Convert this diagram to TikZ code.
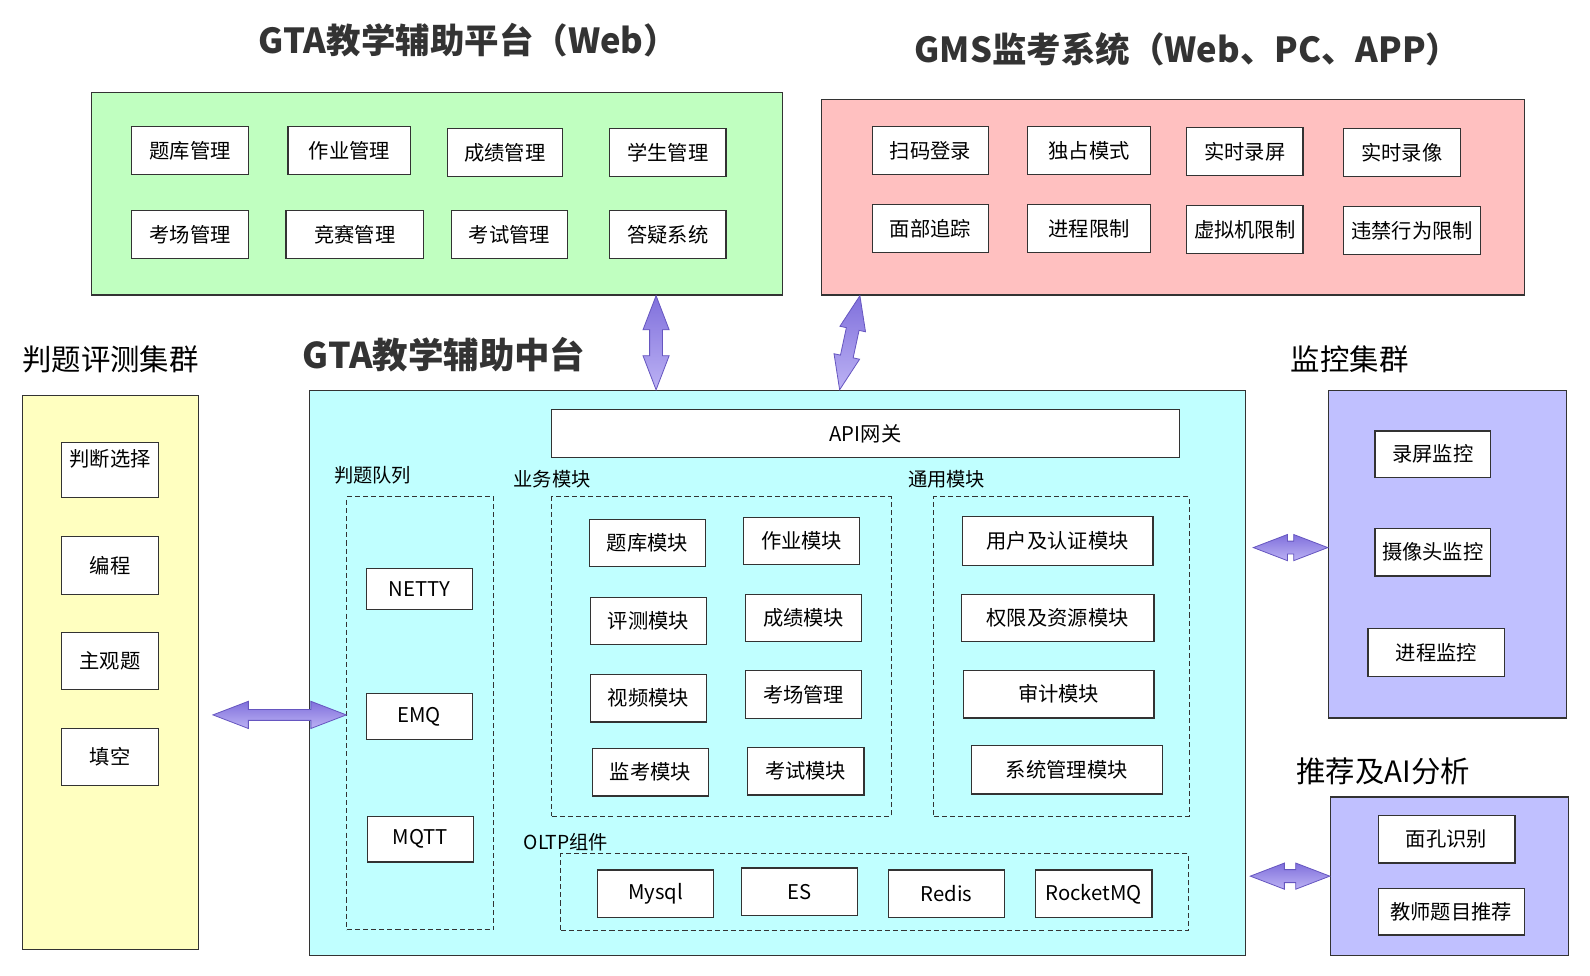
\documentclass[tikz,border=0pt]{standalone}
\usepackage{fontspec}
\setmainfont{Noto Sans CJK SC}
\usetikzlibrary{shapes.arrows,calc}
\definecolor{lineg}{HTML}{333333}
\definecolor{platg}{HTML}{C0FFC0}
\definecolor{gmsr}{HTML}{FFC0C0}
\definecolor{midc}{HTML}{C0FFFF}
\definecolor{judy}{HTML}{FFFFC0}
\definecolor{monp}{HTML}{C0C0FF}
\definecolor{arrline}{HTML}{6656C0}
\definecolor{arrdk}{HTML}{8070DC}
\definecolor{arrlt}{HTML}{BCB2F4}
\newcommand\bigarr[3][]{\path let \p1=($(#3)-(#2)$), \n1={atan2(\y1,\x1)}, \n2={veclen(\x1,\y1)} in
  node[fatarr, minimum height=\n2, rotate=\n1, #1] at ($(#2)!0.5!(#3)$) {};}

\begin{document}
\begin{tikzpicture}[x=1pt,y=-1pt,
  panel/.style={draw=lineg,line width=1.2pt,inner sep=0pt},
  mod/.style={draw=lineg,fill=white,line width=1.1pt,inner sep=0pt,minimum width=115pt,minimum height=47pt,font=\fontsize{20}{23}\selectfont},
  grp/.style={draw=lineg,dash pattern=on 5pt off 3pt,line width=1pt,inner sep=0pt},
  ttl/.style={font=\fontsize{34}{38}\selectfont\bfseries,text=lineg},
  ttr/.style={font=\fontsize{29}{34}\selectfont},
  sec/.style={font=\fontsize{19}{22}\selectfont,anchor=west},
  fatarr/.style={double arrow,draw=arrline,line width=0.8pt,top color=arrdk,bottom color=arrlt,inner xsep=0pt,inner ysep=6pt,
    minimum width=25pt,double arrow head extend=6.5pt,double arrow tip angle=42}]
\useasboundingbox (0,0) rectangle (1568,962);

\node[ttl] (tplat) at (462,40) {GTA教学辅助平台（Web）};
\node[ttl] (tgms) at (1171,49) {GMS监考系统（Web、PC、APP）};
\node[ttr] (tjud) at (109,354) {判题评测集群};
\node[ttl,font=\fontsize{35}{39}\selectfont\bfseries] (tmid) at (438,350) {GTA教学辅助中台};
\node[ttr] (tmon) at (1331,354) {监控集群};
\node[ttr] (trec) at (1364,761) {推荐及AI分析};

\node[panel,fill=platg,minimum width=682pt,minimum height=200pt] (plat) at (431,191) {};
\node[panel,fill=gmsr,minimum width=693pt,minimum height=193pt] (gms) at (1156.5,194.5) {};
\node[panel,fill=midc,minimum width=923pt,minimum height=557pt] (mid) at (766.5,663.5) {};
\node[panel,fill=judy,minimum width=174pt,minimum height=546pt] (jud) at (109,663) {};
\node[panel,fill=monp,minimum width=235pt,minimum height=323pt] (mon) at (1427.5,546.5) {};
\node[panel,fill=monp,minimum width=235pt,minimum height=156pt] (rec) at (1429.5,864) {};

\node[mod] (ptk) at (187.5,148.5) {题库管理};
\node[mod,minimum width=121pt] (pzy) at (344.5,148.5) {作业管理};
\node[mod,minimum width=114pt] (pcj) at (498,150.5) {成绩管理};
\node[mod] (pxs) at (658.5,150.5) {学生管理};
\node[mod] (pkc) at (187.5,231.5) {考场管理};
\node[mod,minimum width=136pt] (pjs) at (350,231.5) {竞赛管理};
\node[mod] (pks) at (502.5,231.5) {考试管理};
\node[mod] (pdy) at (658.5,231.5) {答疑系统};

\node[mod] (gsm) at (917.5,148.5) {扫码登录};
\node[mod,minimum width=122pt] (gdz) at (1074,148.5) {独占模式};
\node[mod] (gpm) at (1227.5,149.5) {实时录屏};
\node[mod] (gxx) at (1382.5,150.5) {实时录像};
\node[mod] (gmb) at (917.5,225.5) {面部追踪};
\node[mod,minimum width=122pt] (gjc) at (1074,225.5) {进程限制};
\node[mod] (gxn) at (1227.5,226.5) {虚拟机限制};
\node[mod,minimum width=135pt] (gwj) at (1392.5,227.5) {违禁行为限制};

\node[mod,minimum width=619pt] (api) at (853.5,427.5) {API网关};
\node[sec] (lq) at (326,469) {判题队列};
\node[sec] (lb) at (503,473) {业务模块};
\node[sec] (lc) at (892,473) {通用模块};
\node[sec] (lo) at (513,831) {OLTP组件};
\node[grp,minimum width=145pt,minimum height=427pt] (grpq) at (414.5,703.5) {};
\node[grp,minimum width=335pt,minimum height=315pt] (grpb) at (711.5,647.5) {};
\node[grp,minimum width=252pt,minimum height=315pt] (grpc) at (1047,647.5) {};
\node[grp,minimum width=619pt,minimum height=76pt] (grpo) at (862.5,880) {};

\node[mod,minimum width=105pt,minimum height=40pt] (netty) at (413.5,581) {NETTY};
\node[mod,minimum width=105pt,minimum height=45pt] (emq) at (413.5,706.5) {EMQ};
\node[mod,minimum width=105pt,minimum height=45pt] (mqtt) at (414.5,827.5) {MQTT};

\node[mod] (btk) at (638.5,535.5) {题库模块};
\node[mod] (bzy) at (790.5,533.5) {作业模块};
\node[mod] (bpc) at (639.5,612.5) {评测模块};
\node[mod] (bcj) at (792.5,609.5) {成绩模块};
\node[mod] (bsp) at (639.5,688.5) {视频模块};
\node[mod] (bkc) at (792.5,685) {考场管理};
\node[mod] (bjk) at (641.5,761.5) {监考模块};
\node[mod] (bks) at (794.5,760.5) {考试模块};

\node[mod,minimum width=188pt,minimum height=49pt] (cyh) at (1043,533.5) {用户及认证模块};
\node[mod,minimum width=190pt] (cqx) at (1043,609.5) {权限及资源模块};
\node[mod,minimum width=188pt] (csj) at (1044,684.5) {审计模块};
\node[mod,minimum width=188pt,minimum height=48pt] (cxt) at (1052,759) {系统管理模块};

\node[mod] (omy) at (646.5,881.5) {Mysql};
\node[mod] (oes) at (788.5,879.5) {ES};
\node[mod] (ors) at (933.5,881.5) {Redis};
\node[mod] (orm) at (1078.5,881.5) {RocketMQ};

\node[mod,minimum width=95pt,minimum height=55pt,align=center] (jpd) at (108.5,463.5) {判断选择\\ ~};
\node[mod,minimum width=95pt,minimum height=57pt] (jbc) at (108.5,557.5) {编程};
\node[mod,minimum width=95pt,minimum height=56pt] (jzg) at (108.5,652) {主观题};
\node[mod,minimum width=95pt,minimum height=57pt] (jtk) at (108.5,746.5) {填空};

\node[mod,minimum width=114pt,minimum height=46pt] (mlp) at (1413,448) {录屏监控};
\node[mod,minimum width=114pt] (msx) at (1413,544.5) {摄像头监控};
\node[mod,minimum width=135pt] (mjc) at (1416.5,643.5) {进程监控};
\node[mod,minimum width=135pt] (rmk) at (1426.5,827.5) {面孔识别};
\node[mod,minimum width=144pt,minimum height=46pt] (rjs) at (1431,899) {教师题目推荐};

\coordinate (a1s) at (647,0 |- plat.south);
\coordinate (a1e) at (647,0 |- mid.north);
\coordinate (a2s) at (848,0 |- gms.south);
\coordinate (a2e) at (828,0 |- mid.north);
\coordinate (a3s) at (210,705);
\coordinate (a3e) at (grpq.west |- 0,705);
\coordinate (a4s) at (1236,540);
\coordinate (a4e) at (mon.west |- 0,540);
\coordinate (a5s) at (1233,864);
\coordinate (a5e) at (rec.west |- 0,864);
\bigarr{a1s}{a1e}
\bigarr{a2s}{a2e}
\bigarr[inner ysep=5pt,minimum width=26pt,double arrow head extend=8pt]{a3s}{a3e}
\bigarr{a4s}{a4e}
\bigarr{a5s}{a5e}
\end{tikzpicture}
\end{document}
